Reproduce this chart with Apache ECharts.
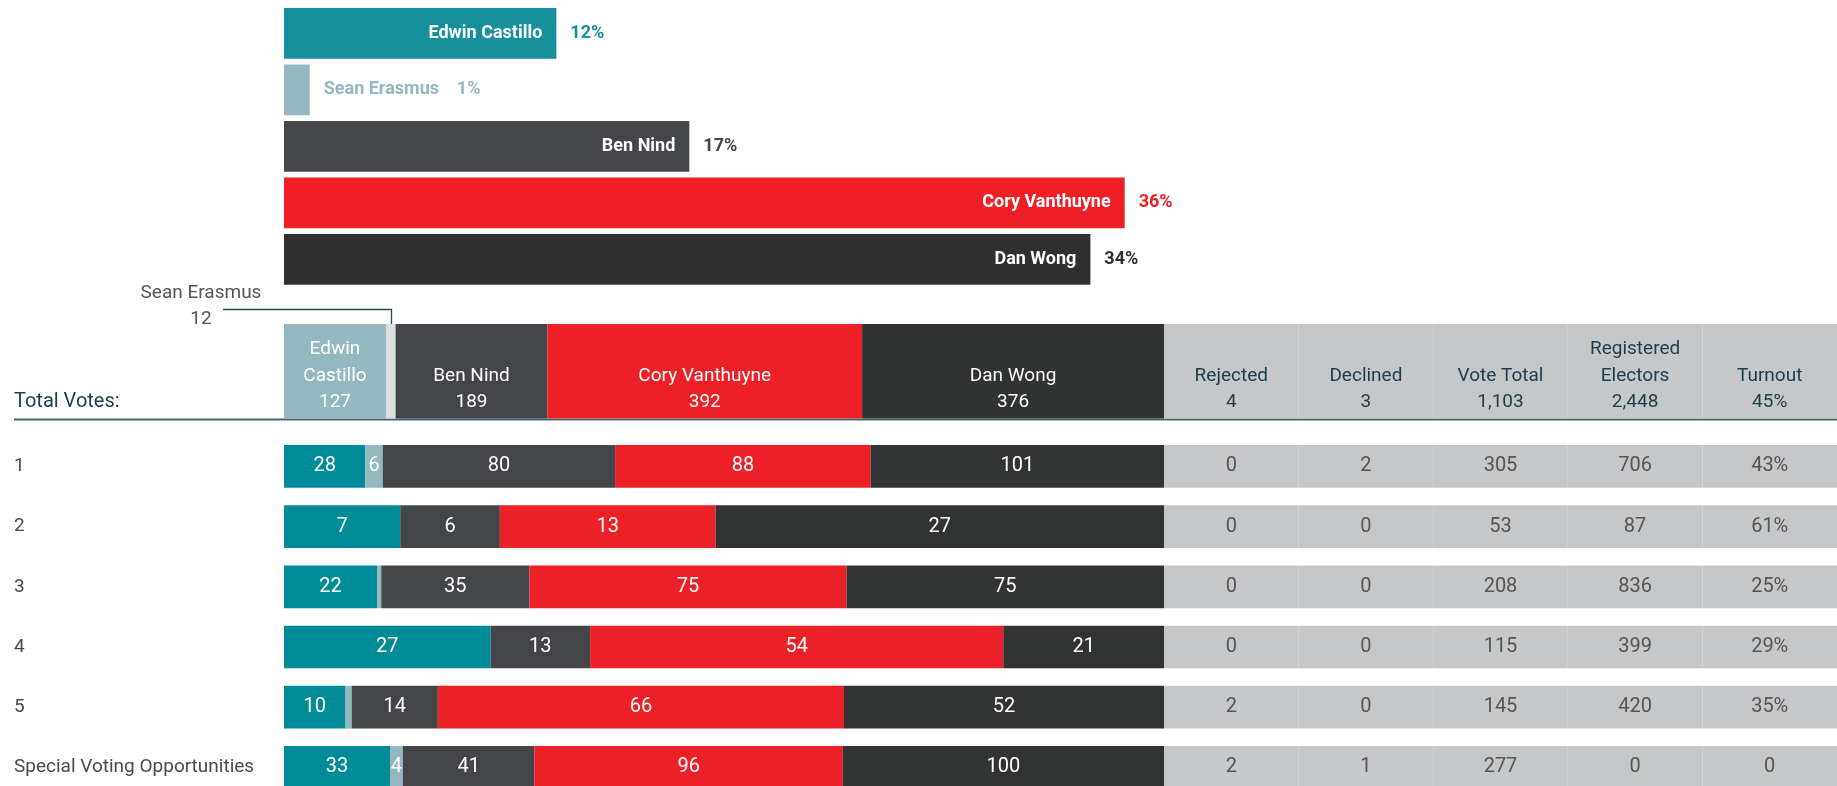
<!DOCTYPE html>
<html>
<head>
<meta charset="utf-8">
<title>Votes by poll</title>
<script src="https://cdn.jsdelivr.net/npm/echarts@6/dist/echarts.min.js"></script>
<style>
  html, body { margin: 0; padding: 0; background: #fff; }
  #chart { width: 1837px; height: 786px; }
</style>
</head>
<body>
<div id="chart"></div>
<script>
// candidates, in stack order
const candidates = ['Edwin Castillo', 'Sean Erasmus', 'Ben Nind', 'Cory Vanthuyne', 'Dan Wong']
const headerNames = ['Edwin\nCastillo', '', 'Ben Nind', 'Cory Vanthuyne', 'Dan Wong']
const totalVotes = [127, 12, 189, 392, 376]
const sharePct = [12, 1, 17, 36, 34]

// polls
const polls = ['1', '2', '3', '4', '5', 'Special Voting Opportunities']
const edwinVotes = [28, 7, 22, 27, 10, 33]
const seanVotes = [6, 0, 1, 0, 1, 4]
const benVotes = [80, 6, 35, 13, 14, 41]
const coryVotes = [88, 13, 75, 54, 66, 96]
const danVotes = [101, 27, 75, 21, 52, 100]

// right hand table
const tableCols = ['Rejected', 'Declined', 'Vote Total', 'Registered\nElectors', 'Turnout']
const tableTotals = ['4', '3', '1,103', '2,448', '45%']
const rejected = ['0', '0', '0', '0', '2', '2']
const declined = ['2', '0', '0', '0', '0', '1']
const voteTotal = ['305', '53', '208', '115', '145', '277']
const registered = ['706', '87', '836', '399', '420', '0']
const turnout = ['43%', '61%', '25%', '29%', '35%', '0']

const topColors = ['#17909d', '#93b8bf', '#454649', '#ee1f25', '#303030']
const headColors = ['#93b8bf', '#dcdee0', '#444548', '#ec2128', '#313333']
const rowColors = ['#008b99', '#93b8bf', '#444548', '#ec2027', '#323333']
const GRAY = '#c6c7c9'
const INK = '#1c3d4a'
const FONT = 'Roboto'

const HEAD_TOP = 324
const HEAD_H = 94.5
const ROW_TOP = 436.3
const ROW_H = 361.2

const pollVotes = [edwinVotes, seanVotes, benVotes, coryVotes, danVotes]
const tableRows = [rejected, declined, voteTotal, registered, turnout]
const rowSums = polls.map((p, i) => pollVotes.reduce((s, arr) => s + arr[i], 0))
const allVotes = totalVotes.reduce((s, v) => s + v, 0)

const hiddenAxis = {
  axisLine: { show: false },
  axisTick: { show: false },
  axisLabel: { show: false },
  splitLine: { show: false }
}

const chart = echarts.init(document.getElementById('chart'))

const series = []

// top: share of vote
series.push({
  type: 'bar',
  xAxisIndex: 0,
  yAxisIndex: 0,
  barCategoryGap: '10%',
  silent: true,
  data: totalVotes.map((v, i) => ({
    value: v,
    itemStyle: { color: topColors[i] },
    label: i === 1
      ? { position: 'right', color: topColors[i], formatter: candidates[i] + '    ' + sharePct[i] + '%' }
      : {}
  })),
  label: {
    show: true,
    position: 'insideRight',
    distance: 14,
    color: '#fff',
    fontFamily: FONT,
    fontWeight: 'bold',
    fontSize: 18,
    formatter: (p) => candidates[p.dataIndex]
  }
})
series.push({
  type: 'bar',
  xAxisIndex: 0,
  yAxisIndex: 0,
  barCategoryGap: '10%',
  barGap: '-100%',
  silent: true,
  itemStyle: { color: 'transparent' },
  data: totalVotes.map((v, i) => ({
    value: v,
    label: { color: topColors[i], show: i !== 1 }
  })),
  label: {
    show: true,
    position: 'right',
    distance: 14,
    fontFamily: FONT,
    fontWeight: 'bold',
    fontSize: 18,
    formatter: (p) => sharePct[p.dataIndex] + '%'
  }
})

// header: total votes per candidate
candidates.forEach((name, k) => {
  series.push({
    type: 'bar',
    name: name,
    xAxisIndex: 1,
    yAxisIndex: 1,
    stack: 'head',
    barCategoryGap: 0,
    silent: true,
    itemStyle: { color: headColors[k] },
    data: [totalVotes[k]],
    label: {
      show: headerNames[k] !== '',
      position: 'insideBottom',
      distance: 3,
      color: '#fff',
      fontFamily: FONT,
      fontSize: 19,
      lineHeight: 26.5,
      formatter: headerNames[k] + '\n' + totalVotes[k]
    }
  })
})

// header: table totals
tableCols.forEach((col, c) => {
  series.push({
    type: 'bar',
    xAxisIndex: 2,
    yAxisIndex: 2,
    stack: 'headTable',
    barCategoryGap: 0,
    silent: true,
    itemStyle: { color: GRAY },
    data: [1],
    label: {
      show: true,
      position: 'insideBottom',
      distance: 3,
      color: INK,
      fontFamily: FONT,
      fontSize: 19,
      lineHeight: 26.5,
      formatter: col + '\n' + tableTotals[c]
    }
  })
})

// rows: votes per poll, each poll stretched to full width
candidates.forEach((name, k) => {
  series.push({
    type: 'bar',
    name: name,
    xAxisIndex: 3,
    yAxisIndex: 3,
    stack: 'rows',
    barCategoryGap: '29%',
    silent: true,
    itemStyle: { color: rowColors[k] },
    data: pollVotes[k].map((v, i) => ({ value: (v / rowSums[i]) * 100, raw: v })),
    label: {
      show: true,
      position: 'inside',
      color: '#fff',
      fontFamily: FONT,
      fontSize: 20,
      formatter: (p) => (p.data.raw > 1 ? String(p.data.raw) : '')
    }
  })
})

// rows: table cells
tableCols.forEach((col, c) => {
  series.push({
    type: 'bar',
    xAxisIndex: 4,
    yAxisIndex: 4,
    stack: 'rowTable',
    barCategoryGap: '29%',
    silent: true,
    itemStyle: { color: GRAY },
    data: polls.map(() => 1),
    label: {
      show: true,
      position: 'inside',
      color: '#555',
      fontFamily: FONT,
      fontSize: 20,
      formatter: (p) => tableRows[c][p.dataIndex]
    }
  })
})

const gridBase = { outerBoundsMode: 'none', containLabel: false }

const option = {
  animation: false,
  backgroundColor: '#fff',
  grid: [
    { ...gridBase, left: 284, top: 5.1, width: 1072.3, height: 282.5 },
    { ...gridBase, left: 284, top: HEAD_TOP, width: 880, height: HEAD_H },
    { ...gridBase, left: 1164, top: HEAD_TOP, width: 673, height: HEAD_H },
    { ...gridBase, left: 284, top: ROW_TOP, width: 880, height: ROW_H },
    { ...gridBase, left: 1164, top: ROW_TOP, width: 673, height: ROW_H }
  ],
  xAxis: [
    { type: 'value', gridIndex: 0, min: 0, max: 500, ...hiddenAxis },
    { type: 'value', gridIndex: 1, min: 0, max: allVotes, ...hiddenAxis },
    { type: 'value', gridIndex: 2, min: 0, max: tableCols.length, ...hiddenAxis },
    { type: 'value', gridIndex: 3, min: 0, max: 100, ...hiddenAxis },
    { type: 'value', gridIndex: 4, min: 0, max: tableCols.length, ...hiddenAxis }
  ],
  yAxis: [
    { type: 'category', gridIndex: 0, inverse: true, data: candidates, ...hiddenAxis },
    { type: 'category', gridIndex: 1, data: ['total'], ...hiddenAxis },
    { type: 'category', gridIndex: 2, data: ['total'], ...hiddenAxis },
    {
      type: 'category',
      gridIndex: 3,
      inverse: true,
      data: polls,
      axisLine: { show: false },
      axisTick: { show: false },
      splitLine: { show: false },
      axisLabel: {
        align: 'left',
        margin: 270,
        color: '#4a4a4a',
        fontFamily: FONT,
        fontSize: 19
      }
    },
    { type: 'category', gridIndex: 4, inverse: true, data: polls, ...hiddenAxis }
  ],
  series: series
}

chart.setOption(option)

// leader for the thin Sean Erasmus header segment, the header caption and its underline
const seanX = Math.round(chart.convertToPixel({ xAxisIndex: 1 }, totalVotes[0] + totalVotes[1] / 2)) + 0.5
chart.setOption({
  graphic: [
    {
      type: 'polyline',
      silent: true,
      shape: { points: [[223, 309.5], [seanX, 309.5], [seanX, HEAD_TOP + 12]] },
      style: { stroke: '#2e4a55', lineWidth: 1.3, fill: null }
    },
    {
      type: 'text',
      silent: true,
      x: 201,
      y: 306,
      style: {
        text: candidates[1] + '\n' + totalVotes[1],
        align: 'center',
        verticalAlign: 'middle',
        fill: '#555',
        font: '19px ' + FONT,
        lineHeight: 26.5
      }
    },
    {
      type: 'text',
      silent: true,
      x: 14,
      y: 402,
      style: {
        text: 'Total Votes:',
        align: 'left',
        verticalAlign: 'middle',
        fill: INK,
        font: '20px ' + FONT
      }
    },
    {
      type: 'line',
      silent: true,
      shape: { x1: 14, y1: HEAD_TOP + HEAD_H + 1, x2: 1837, y2: HEAD_TOP + HEAD_H + 1 },
      style: { stroke: '#46646e', lineWidth: 2 }
    }
  ]
})
</script>
</body>
</html>
